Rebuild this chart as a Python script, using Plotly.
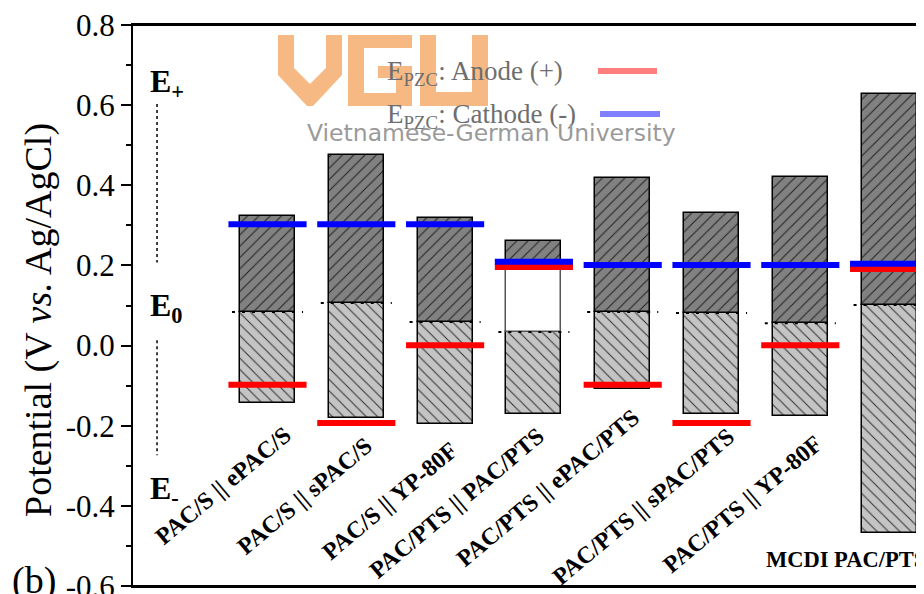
import plotly.graph_objects as go

# ---------------- data ----------------
categories = ["PAC/S || ePAC/S", "PAC/S || sPAC/S", "PAC/S || YP-80F",
              "PAC/PTS || PAC/PTS", "PAC/PTS || ePAC/PTS", "PAC/PTS || sPAC/PTS",
              "PAC/PTS || YP-80F", "MCDI PAC/PTS"]
e_minus = [-0.143, -0.181, -0.196, -0.171, -0.108, -0.171, -0.176, -0.468]
e_zero = [0.084, 0.106, 0.059, 0.034, 0.084, 0.081, 0.056, 0.101]
upper_start = [0.084, 0.106, 0.059, 0.200, 0.084, 0.081, 0.056, 0.101]
e_plus = [0.323, 0.476, 0.318, 0.261, 0.418, 0.331, 0.421, 0.628]
epzc_anode = [-0.098, -0.193, 0.001, 0.196, -0.098, -0.193, 0.001, 0.191]
epzc_cathode = [0.303, 0.303, 0.303, 0.209, 0.201, 0.201, 0.201, 0.204]
y_tick_vals = [-0.6, -0.4, -0.2, 0.0, 0.2, 0.4, 0.6, 0.8]
y_tick_text = ["-0.6", "-0.4", "-0.2", "0.0", "0.2", "0.4", "0.6", "0.8"]
y_minor_vals = [-0.5, -0.3, -0.1, 0.1, 0.3, 0.5, 0.7]

# ---------------- layout constants ----------------
VIEW_W, VIEW_H = 924, 594
BODY = 8                      # default page margin around the plot div
W, H = VIEW_W - BODY, VIEW_H - BODY
PLOT_L, PLOT_T, PLOT_B = 133, 25, 586      # on-screen plot box
ML, MR, MT, MB = PLOT_L - BODY, 0, PLOT_T - BODY, VIEW_H - PLOT_B
PW, PH = VIEW_W - PLOT_L, PLOT_B - PLOT_T
X_RANGE = [-0.5146, 8.393]
Y_RANGE = [-0.6, 0.8]
BAR_W = 0.62
LINE_HALF = 0.44
DOT_HALF = 0.40
SERIF = "Liberation Serif, Times New Roman, serif"

pos = list(range(1, len(categories) + 1))


def pxx(p):
    return (p - PLOT_L) / PW


def pxy(p):
    return (PLOT_B - p) / PH


def seg(vals, half):
    xs, ys = [], []
    for p, v in zip(pos, vals):
        xs += [p - half, p + half, None]
        ys += [v, v, None]
    return xs, ys


fig = go.Figure()

# E0 dotted markers (under the bars, visible beside them)
dx, dy = seg(e_zero, DOT_HALF)
fig.add_trace(go.Scatter(x=dx, y=dy, mode="lines",
                         line=dict(color="black", width=2, dash="3px,7px"),
                         hoverinfo="skip", showlegend=False))

# lower (E- -> E0) light hatched part
fig.add_trace(go.Bar(
    x=pos, base=e_minus, y=[z - b for z, b in zip(e_zero, e_minus)], width=BAR_W,
    marker=dict(color="#c4c4c4", line=dict(color="black", width=1.5),
                pattern=dict(shape="\\", fgcolor="#333333", bgcolor="#c4c4c4",
                             size=8, solidity=0.13, fillmode="replace")),
    hoverinfo="skip", showlegend=False))
# empty gap part
fig.add_trace(go.Bar(
    x=pos, base=e_zero, y=[u - z for u, z in zip(upper_start, e_zero)], width=BAR_W,
    marker=dict(color="white", line=dict(color="#555555", width=1.5)),
    hoverinfo="skip", showlegend=False))
# upper (E0 -> E+) dark hatched part
fig.add_trace(go.Bar(
    x=pos, base=upper_start, y=[t - u for t, u in zip(e_plus, upper_start)], width=BAR_W,
    marker=dict(color="#818181", line=dict(color="black", width=1.5),
                pattern=dict(shape="/", fgcolor="#222222", bgcolor="#818181",
                             size=8, solidity=0.13, fillmode="replace")),
    hoverinfo="skip", showlegend=False))

rx, ry = seg(epzc_anode, LINE_HALF)
fig.add_trace(go.Scatter(x=rx, y=ry, mode="lines", line=dict(color="#ff0000", width=6),
                         hoverinfo="skip", showlegend=False))
bx, by = seg(epzc_cathode, LINE_HALF)
fig.add_trace(go.Scatter(x=bx, y=by, mode="lines", line=dict(color="#0000ff", width=6),
                         hoverinfo="skip", showlegend=False))

annotations = []
CAT_FONT = dict(family=SERIF, size=24, color="black", weight="bold")
label_pos = [(0.494, -0.350), (1.417, -0.375), (2.375, -0.388), (3.129, -0.392),
             (4.154, -0.355), (5.224, -0.402), (6.350, -0.395)]
for (lx, ly), txt in zip(label_pos, categories[:7]):
    annotations.append(dict(x=lx, y=ly, xref="x", yref="y", text=txt, showarrow=False,
                            textangle=-40, xanchor="center", yanchor="middle", font=CAT_FONT))
annotations.append(dict(x=6.59, y=-0.535, xref="x", yref="y", text=categories[7],
                        showarrow=False, xanchor="left", yanchor="middle",
                        font=dict(family=SERIF, size=22.5, color="black", weight="bold")))

# E+, E0, E- markers
for txt, yy in [("E<sub>+</sub>", 0.653), ("E<sub>0</sub>", 0.095), ("E<sub>-</sub>", -0.362)]:
    annotations.append(dict(x=-0.344, y=yy, xref="x", yref="y", text=txt, showarrow=False,
                            xanchor="left", yanchor="middle",
                            font=dict(family=SERIF, size=32, color="black", weight="bold")))

# axis title
annotations.append(dict(x=pxx(38), y=pxy(320), xref="paper", yref="paper",
                        text="Potential (V <i>vs.</i> Ag/AgCl)", textangle=-90, showarrow=False,
                        xanchor="center", yanchor="middle",
                        font=dict(family=SERIF, size=38, color="black")))
# panel label
annotations.append(dict(x=pxx(34), y=pxy(580), xref="paper", yref="paper", text="(b)",
                        showarrow=False, xanchor="center", yanchor="middle",
                        font=dict(family=SERIF, size=38, color="black")))
# legend text
LEG_FONT = dict(family=SERIF, size=27, color="#6e6e6e")
annotations.append(dict(x=pxx(385), y=pxy(73), xref="paper", yref="paper",
                        text="E<sub>PZC</sub>: Anode (+)", showarrow=False,
                        xanchor="left", yanchor="middle", font=LEG_FONT))
annotations.append(dict(x=pxx(385), y=pxy(116), xref="paper", yref="paper",
                        text="E<sub>PZC</sub>: Cathode (-)", showarrow=False,
                        xanchor="left", yanchor="middle", font=LEG_FONT))
# watermark text
annotations.append(dict(x=pxx(491), y=pxy(133), xref="paper", yref="paper",
                        text="Vietnamese-German University", showarrow=False,
                        xanchor="center", yanchor="middle",
                        font=dict(family="DejaVu Sans", size=23.5, color="#9a9a9a")))

shapes = []
# frame lines (top and bottom of the plot box)
for yy in (0, 1):
    shapes.append(dict(type="line", xref="paper", yref="paper", x0=0, x1=1, y0=yy, y1=yy,
                       line=dict(color="black", width=2), layer="above"))
# E+ / E- dotted guides
for y0, y1 in [(0.603, 0.207), (0.013, -0.274)]:
    shapes.append(dict(type="line", xref="x", yref="y", x0=-0.244, x1=-0.244, y0=y0, y1=y1,
                       line=dict(color="black", width=1.5, dash="dot")))
# legend line samples
shapes.append(dict(type="line", xref="paper", yref="paper", x0=pxx(598), x1=pxx(657),
                   y0=pxy(71), y1=pxy(71), line=dict(color="#ff7f7f", width=6)))
shapes.append(dict(type="line", xref="paper", yref="paper", x0=pxx(600), x1=pxx(660),
                   y0=pxy(114), y1=pxy(114), line=dict(color="#7f7fff", width=6)))

# VGU watermark logo (approximate)
ORANGE = "#f6b983"


def poly(pts):
    return "M " + " L ".join(f"{pxx(a):.5f},{pxy(b):.5f}" for a, b in pts) + " Z"


logo = [
    [(278, 35), (294, 35), (294, 68), (310, 84), (326, 68), (326, 35), (342, 35),
     (342, 75), (313, 106), (307, 106), (278, 75)],
    [(348, 35), (412, 35), (412, 48), (364, 48), (364, 93), (396, 93), (396, 78),
     (378, 78), (378, 66), (412, 66), (412, 106), (348, 106)],
    [(420, 35), (436, 35), (436, 92), (472, 92), (472, 35), (488, 35), (488, 106),
     (420, 106)],
]
for pts in logo:
    shapes.append(dict(type="path", xref="paper", yref="paper", path=poly(pts),
                       fillcolor=ORANGE, line=dict(width=0), layer="above"))

fig.update_layout(
    width=W, height=H, margin=dict(l=ML, r=MR, t=MT, b=MB, pad=0, autoexpand=False),
    paper_bgcolor="white", plot_bgcolor="white", barmode="overlay", bargap=0,
    showlegend=False, annotations=annotations, shapes=shapes,
    xaxis=dict(range=X_RANGE, showline=True, linecolor="black", linewidth=2, mirror=True,
               showticklabels=False, ticks="", showgrid=False, zeroline=False,
               automargin=False),
    yaxis=dict(range=Y_RANGE, showline=True, linecolor="black", linewidth=2, mirror=False,
               tickvals=y_tick_vals, ticktext=y_tick_text, ticks="outside", ticklen=10,
               tickwidth=2, tickcolor="black", showgrid=False, zeroline=False,
               ticklabeloverflow="allow", automargin=False,
               tickfont=dict(family=SERIF, size=31, color="black"),
               minor=dict(tickvals=y_minor_vals, ticks="outside", ticklen=5, tickwidth=2,
                          tickcolor="black", showgrid=False)),
)

fig.write_html("out.html")
